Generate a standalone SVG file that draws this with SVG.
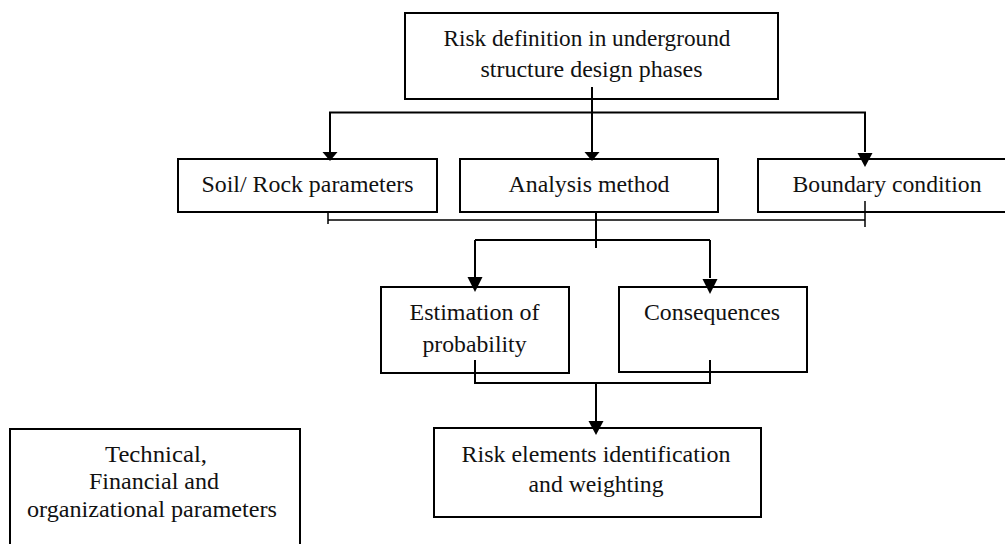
<svg xmlns="http://www.w3.org/2000/svg" width="1005" height="544" viewBox="0 0 1005 544">
<style>
.box{fill:#fff;stroke:#000;stroke-width:2}
.ln{fill:none;stroke:#000;stroke-width:2}
.ln2{fill:none;stroke:#000;stroke-width:1.5}
.t{font-family:"Liberation Serif","Times New Roman",serif;font-size:23.5px;fill:#111;text-anchor:middle}
.ah{fill:#000}
</style>
<rect width="1005" height="544" fill="#fff"/>
<g id="n-top">
<rect class="box" x="405" y="13" width="373" height="86"/>
<text class="t" x="587" y="46" textLength="287" lengthAdjust="spacingAndGlyphs">Risk definition in underground</text>
<text class="t" x="591.5" y="77" textLength="222" lengthAdjust="spacingAndGlyphs">structure design phases</text>
</g>
<g id="n-soil">
<rect class="box" x="178" y="159" width="259" height="53"/>
<text class="t" x="307.5" y="192" textLength="212" lengthAdjust="spacingAndGlyphs">Soil/ Rock parameters</text>
</g>
<g id="n-analysis">
<rect class="box" x="460" y="159" width="258" height="53"/>
<text class="t" x="589" y="192" textLength="161" lengthAdjust="spacingAndGlyphs">Analysis method</text>
</g>
<g id="n-boundary">
<rect class="box" x="758" y="159" width="260" height="53"/>
<text class="t" x="887" y="192" textLength="189" lengthAdjust="spacingAndGlyphs">Boundary condition</text>
</g>
<g id="n-estimation">
<rect class="box" x="381" y="287" width="188" height="86"/>
<text class="t" x="474.5" y="320" textLength="130" lengthAdjust="spacingAndGlyphs">Estimation of</text>
<text class="t" x="474.5" y="352" textLength="104" lengthAdjust="spacingAndGlyphs">probability</text>
</g>
<g id="n-consequences">
<rect class="box" x="619" y="287" width="188" height="85"/>
<text class="t" x="712" y="320" textLength="136" lengthAdjust="spacingAndGlyphs">Consequences</text>
</g>
<g id="n-risk">
<rect class="box" x="434" y="428" width="327" height="89"/>
<text class="t" x="596" y="461.5" textLength="269" lengthAdjust="spacingAndGlyphs">Risk elements identification</text>
<text class="t" x="596" y="491.5" textLength="135" lengthAdjust="spacingAndGlyphs">and weighting</text>
</g>
<g id="n-technical">
<rect class="box" x="10" y="429" width="290" height="130"/>
<text class="t" x="156" y="461.5" textLength="102" lengthAdjust="spacingAndGlyphs">Technical,</text>
<text class="t" x="154" y="489" textLength="130" lengthAdjust="spacingAndGlyphs">Financial and</text>
<text class="t" x="152" y="517" textLength="250" lengthAdjust="spacingAndGlyphs">organizational parameters</text>
</g>
<g id="connectors">
<path class="ln" d="M592 87V152M330 152V112.5H865V152"/>
<polygon class="ah" points="322.5,152 337.5,152 330,161"/>
<polygon class="ah" points="584.5,152 599.5,152 592,161"/>
<polygon class="ah" points="857.5,153 872.5,153 865,167"/>
<path class="ln2" d="M328 213V224M328 220H865M865 201V227"/>
<path class="ln" d="M596 212V248M475 240H710M475 240V278M710 240V278"/>
<polygon class="ah" points="467.5,277 482.5,277 475,292"/>
<polygon class="ah" points="702.5,279 717.5,279 710,294"/>
<path class="ln" d="M475 360V383H710V360M596 383V421"/>
<polygon class="ah" points="588.5,421 603.5,421 596,435"/>
</g>
</svg>
